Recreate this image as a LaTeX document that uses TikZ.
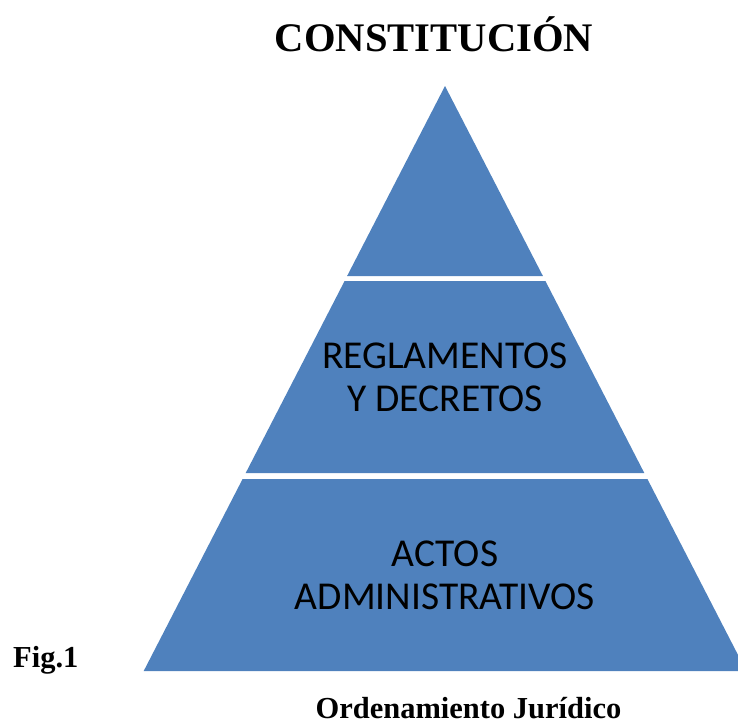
\documentclass[tikz,border=0pt]{standalone}
\usepackage{fontspec}
\setmainfont{Liberation Serif}
\newfontfamily\bandfont{Carlito}
\definecolor{pyrblue}{HTML}{4F81BD}
\begin{document}
\begin{tikzpicture}[x=1pt,y=-1pt,
  band/.style={align=center,inner sep=0pt,font=\bandfont\fontsize{39.5}{43}\selectfont},
  heading/.style={anchor=base,inner sep=0pt,font=\fontsize{40.6}{48}\selectfont\bfseries},
  caption/.style={anchor=base,inner sep=0pt,font=\fontsize{30.5}{36}\selectfont\bfseries}]
\useasboundingbox (0,0) rectangle (738,724);
\clip (0,0) rectangle (738,724);
% pyramid, three bands
\fill[pyrblue] (445,86) -- (542.9,276) -- (347.1,276) -- cycle;
\fill[pyrblue] (344.6,281) -- (545.4,281) -- (644.3,473) -- (245.7,473) -- cycle;
\fill[pyrblue] (242.6,479) -- (647.4,479) -- (746.3,671) -- (143.7,671) -- cycle;
\node[heading] (constitucion) at (434,51.7) {CONSTITUCIÓN};
\node[band] (reglamentos) at (445,377) {REGLAMENTOS\\Y DECRETOS};
\node[band] (actos) at (445,575) {ACTOS\\ADMINISTRATIVOS};
\node[caption,anchor=base west] (fig) at (13,667) {Fig.1};
\node[caption] (ordenamiento) at (468.5,718.5) {Ordenamiento Jurídico};
\end{tikzpicture}
\end{document}
